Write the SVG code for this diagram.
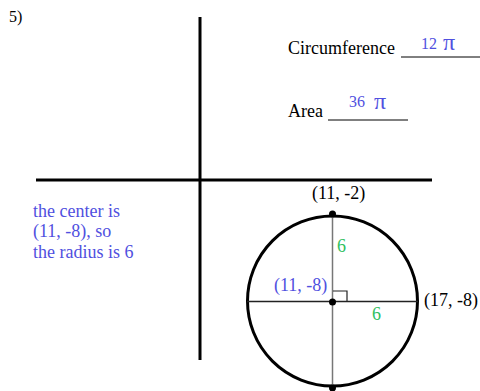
<svg xmlns="http://www.w3.org/2000/svg" width="480" height="391" viewBox="0 0 480 391">
<style>
text{font-family:"Liberation Serif","Times New Roman","DejaVu Serif",serif;font-size:18px}
.t{fill:#000}
.b{fill:#5050e0}
.g{fill:#30c060}
.ax{stroke:#000;stroke-width:3}
</style>
<rect width="480" height="391" fill="#fff"/>
<text class="t" x="9" y="22" style="font-size:16px">5)</text>
<g id="axes">
<line class="ax" x1="200" y1="17" x2="200" y2="360"/>
<line class="ax" x1="36" y1="180" x2="432" y2="180"/>
</g>
<g id="answers">
<text class="t" x="288" y="54">Circumference</text>
<line x1="401" y1="57" x2="480" y2="57" stroke="#000" stroke-width="1"/>
<text class="b" x="421" y="49" style="font-size:16px">12</text>
<text class="b" x="443" y="50" style="font-size:24px">π</text>
<text class="t" x="288" y="117">Area</text>
<line x1="328" y1="120" x2="408" y2="120" stroke="#000" stroke-width="1"/>
<text class="b" x="349" y="107" style="font-size:16px">36</text>
<text class="b" x="374" y="109" style="font-size:24px">π</text>
</g>
<g id="note">
<text class="b" x="33" y="217">the center is</text>
<text class="b" x="33" y="237">(11, -8), so</text>
<text class="b" x="33" y="258">the radius is 6</text>
</g>
<g id="circle">
<circle cx="332.5" cy="301" r="85" fill="none" stroke="#000" stroke-width="3"/>
<line x1="332.5" y1="214" x2="332.5" y2="388" stroke="#777" stroke-width="1.5"/>
<line x1="247" y1="301.5" x2="418" y2="301.5" stroke="#222" stroke-width="1.5"/>
<polyline points="333,291 347,291 347,301" fill="none" stroke="#222" stroke-width="1.2"/>
<circle cx="332.5" cy="214" r="3.5" fill="#000"/>
<circle cx="332.5" cy="302" r="3.5" fill="#000"/>
<circle cx="332.5" cy="388" r="3.5" fill="#000"/>
</g>
<g id="labels">
<text class="t" x="312" y="199">(11, -2)</text>
<text class="t" x="424" y="306">(17, -8)</text>
<text class="b" x="274" y="291">(11, -8)</text>
<text class="g" x="337" y="252">6</text>
<text class="g" x="372" y="320">6</text>
</g>
</svg>
